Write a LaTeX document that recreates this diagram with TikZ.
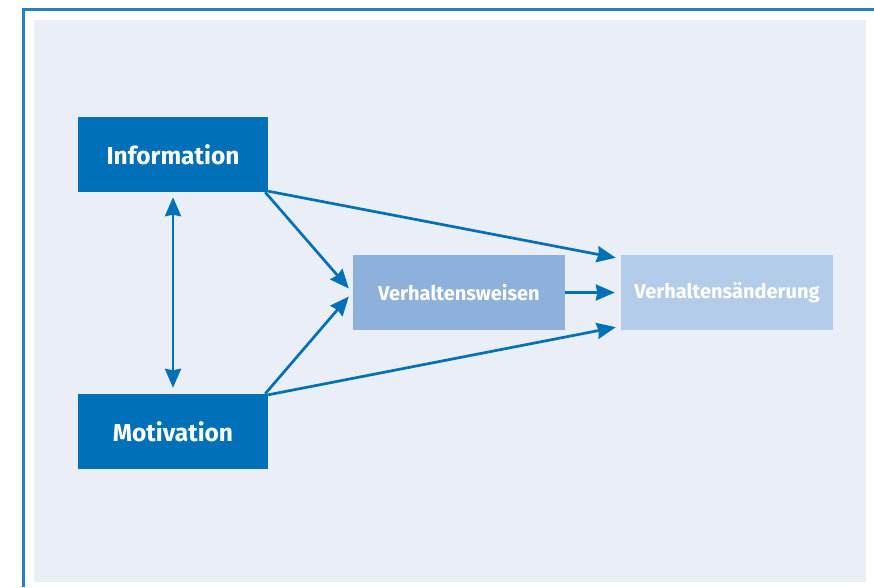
\documentclass[tikz,border=0pt]{standalone}
\usepackage{fontspec}
\setmainfont{Fira Sans}
\usepackage{tikz}
\usetikzlibrary{positioning,arrows.meta}

\definecolor{darkblue}{RGB}{0,112,184}
\definecolor{midblue}{RGB}{141,177,218}
\definecolor{paleblue}{RGB}{179,204,233}
\definecolor{panel}{RGB}{233,238,247}
\definecolor{frameblue}{RGB}{36,128,196}

\tikzset{
    bigbox/.style={fill=darkblue, text=white, minimum width=190pt, minimum height=75pt,
        inner sep=0pt, font=\fontsize{24.5}{28}\selectfont\bfseries},
    smallbox/.style={text=white, minimum width=212pt, minimum height=75pt,
        inner sep=0pt, font=\fontsize{20}{24}\selectfont\bfseries},
    link/.style={draw=darkblue, line width=2.7pt, -{Stealth[length=19pt,width=16pt,inset=1.5pt]}},
}

\begin{document}
\begin{tikzpicture}[x=1pt,y=-1pt]
    \useasboundingbox (0,0) rectangle (874,587);
    \fill[panel] (34,20) rectangle (866,582);
    \draw[frameblue, line width=2.5pt] (23.5,587) -- (23.5,9.5) -- (874,9.5);

    \node[bigbox] (info) at (173,154.5) {Information};
    \node[bigbox] (motiv) at (173,431.5) {Motivation};
    \node[smallbox, fill=midblue] (weisen) at (459,292.5) {Verhaltensweisen};
    \node[smallbox, fill=paleblue] (aender) at (727,292.5) {Verhaltensänderung};

    \draw[link] ([xshift=-3pt]info.south east) -- ([xshift=-4pt,yshift=4pt]weisen.west);
    \draw[link] ([xshift=-3pt]motiv.north east) -- ([xshift=-4pt,yshift=-4pt]weisen.west);
    \draw[link] ([yshift=1pt]info.south east) -- ([xshift=-5pt,yshift=-3pt]aender.north west);
    \draw[link] ([yshift=-1pt]motiv.north east) -- ([xshift=-5pt,yshift=3pt]aender.south west);
    \draw[link] (weisen.east) -- ([xshift=-6pt]aender.west);
    \draw[link, {Stealth[length=19pt,width=16pt,inset=1.5pt]}-{Stealth[length=19pt,width=16pt,inset=1.5pt]}]
        ([yshift=-5pt]info.south) -- ([yshift=6pt]motiv.north);
\end{tikzpicture}
\end{document}
